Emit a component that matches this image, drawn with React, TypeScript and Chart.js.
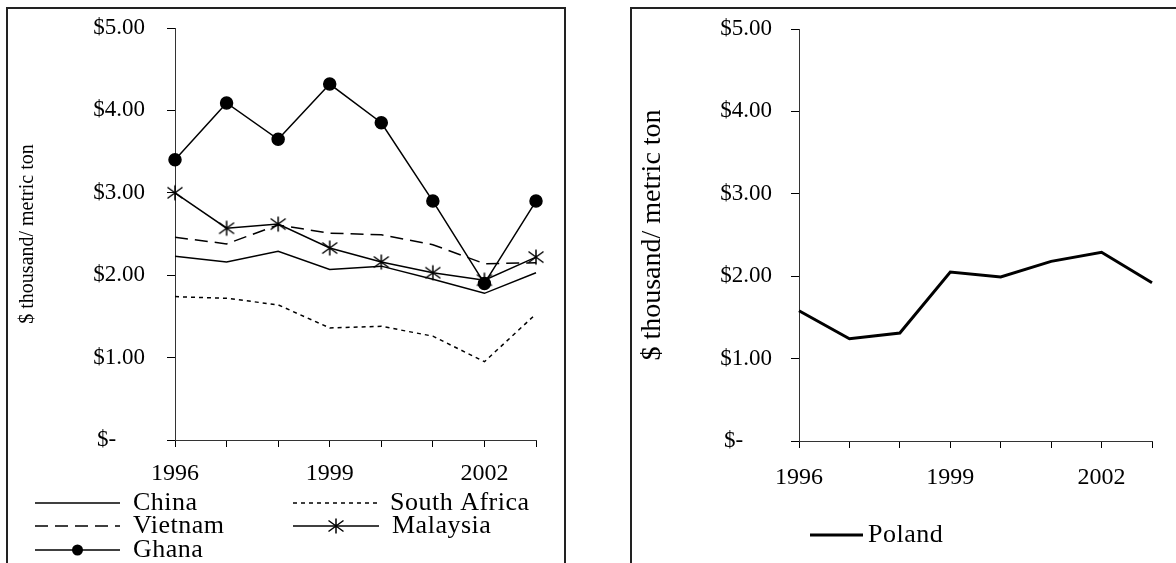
import React, { useEffect, useRef } from 'react';
import { Chart, registerables } from 'chart.js';

Chart.register(...registerables);

const years = ['1996', '1997', '1998', '1999', '2000', '2001', '2002', '2003'];
const shownYears = ['1996', '1999', '2002'];
const china = [2.23, 2.16, 2.29, 2.07, 2.11, 1.95, 1.78, 2.03];
const southAfrica = [1.74, 1.72, 1.64, 1.36, 1.38, 1.26, 0.95, 1.53];
const vietnam = [2.46, 2.38, 2.61, 2.51, 2.49, 2.37, 2.14, 2.15];
const malaysia = [3.0, 2.57, 2.62, 2.33, 2.16, 2.03, 1.94, 2.22];
const ghana = [3.4, 4.09, 3.65, 4.32, 3.85, 2.9, 1.9, 2.9];
const poland = [1.58, 1.24, 1.31, 2.05, 1.99, 2.18, 2.29, 1.92];
const yTitle = '$ thousand/ metric ton';

const FAMILY = '"Liberation Serif", "Times New Roman", serif';

function makeStar(): HTMLCanvasElement {
  const c = document.createElement('canvas');
  c.width = 18;
  c.height = 18;
  const g = c.getContext('2d')!;
  g.strokeStyle = '#000';
  g.lineWidth = 1.5;
  const cx = 9, cy = 9;
  g.beginPath();
  g.moveTo(cx, cy - 7.5);
  g.lineTo(cx, cy + 7.5);
  g.moveTo(cx - 7.5, cy - 5.5);
  g.lineTo(cx + 7.5, cy + 5.5);
  g.moveTo(cx - 7.5, cy + 5.5);
  g.lineTo(cx + 7.5, cy - 5.5);
  g.stroke();
  return c;
}

type LegendSlot = { index: number; x1: number; x2: number; y: number; textX: number };

function legendPlugin(slots: LegendSlot[], fontSize: number) {
  return {
    id: 'customLegend',
    afterDraw(chart: any) {
      const ctx: CanvasRenderingContext2D = chart.ctx;
      ctx.save();
      slots.forEach((s) => {
        const ds = chart.data.datasets[s.index];
        ctx.beginPath();
        ctx.strokeStyle = '#000';
        ctx.lineWidth = ds.borderWidth;
        ctx.setLineDash(ds.borderDash || []);
        ctx.moveTo(s.x1, s.y);
        ctx.lineTo(s.x2, s.y);
        ctx.stroke();
        ctx.setLineDash([]);
        const mid = (s.x1 + s.x2) / 2;
        if (ds.pointStyle === 'circle' && ds.pointRadius > 0) {
          ctx.beginPath();
          ctx.fillStyle = '#000';
          ctx.arc(mid, s.y, 5.5, 0, Math.PI * 2);
          ctx.fill();
        } else if (ds.pointStyle && typeof ds.pointStyle === 'object') {
          const img = ds.pointStyle as HTMLCanvasElement;
          ctx.drawImage(img, mid - img.width / 2, s.y - img.height / 2);
        }
        ctx.fillStyle = '#000';
        ctx.font = `${fontSize}px ${FAMILY}`;
        (ctx as any).letterSpacing = '0.5px';
        ctx.textAlign = 'left';
        ctx.textBaseline = 'middle';
        ctx.fillText(ds.label, s.textX, s.y);
      });
      ctx.restore();
    },
  };
}

function yFmt(v: any) {
  const n = Number(v);
  if (n === 0) return '$-\u2007\u2007 ';
  return '$' + n.toFixed(2);
}

function makeScales(opts: {
  xPad: number;
  yPad: number;
  titleSize: number;
  titlePad: number;
  xHeight: number;
}) {
  return {
    x: {
      type: 'category',
      offset: false,
      grid: {
        display: true,
        drawOnChartArea: false,
        drawTicks: true,
        tickLength: 7,
        color: '#000',
        lineWidth: 1,
        offset: false,
      },
      border: { display: true, color: '#333', width: 1 },
      ticks: {
        autoSkip: false,
        maxRotation: 0,
        minRotation: 0,
        padding: opts.xPad,
        color: '#000',
        font: { family: FAMILY, size: 24 },
        callback: (_v: any, i: number) => (shownYears.includes(years[i]) ? years[i] : ''),
      },
      afterFit: (s: any) => {
        s.height = opts.xHeight;
        s.paddingLeft = 0;
        s.paddingRight = 0;
      },
    },
    y: {
      min: 0,
      max: 5,
      grid: {
        display: true,
        drawOnChartArea: false,
        drawTicks: true,
        tickLength: 8,
        color: '#000',
        lineWidth: 1,
      },
      border: { display: true, color: '#333', width: 1 },
      ticks: {
        stepSize: 1,
        padding: opts.yPad,
        color: '#000',
        font: { family: FAMILY, size: 23 },
        callback: yFmt,
      },
      title: {
        display: true,
        text: yTitle,
        color: '#000',
        font: { family: FAMILY, size: opts.titleSize },
        padding: { top: opts.titlePad, bottom: 0 },
      },
      afterFit: (s: any) => {
        s.width = 166;
        s.paddingTop = 0;
        s.paddingBottom = 0;
      },
    },
  };
}

function ChartCanvas(props: { build: () => any; width: number; height: number; left: number; top: number }) {
  const ref = useRef<HTMLCanvasElement | null>(null);
  useEffect(() => {
    if (!ref.current) return;
    const chart = new Chart(ref.current, props.build());
    return () => chart.destroy();
  }, []);
  return (
    <canvas
      ref={ref}
      width={props.width}
      height={props.height}
      style={{
        position: 'absolute',
        left: props.left,
        top: props.top,
        width: props.width,
        height: props.height,
      }}
    />
  );
}

function buildLeft() {
  const star = makeStar();
  return {
    type: 'line',
    data: {
      labels: years,
      datasets: [
        { label: 'China', data: china, borderColor: '#000', borderWidth: 1.5, pointRadius: 0, tension: 0, clip: false },
        { label: 'South Africa', data: southAfrica, borderColor: '#000', borderWidth: 1.5, borderDash: [4, 4], pointRadius: 0, tension: 0, clip: false },
        { label: 'Vietnam', data: vietnam, borderColor: '#000', borderWidth: 1.5, borderDash: [13, 7], pointRadius: 0, tension: 0, clip: false },
        { label: 'Malaysia', data: malaysia, borderColor: '#000', borderWidth: 1.5, pointStyle: star, pointRadius: 8, tension: 0, clip: false },
        { label: 'Ghana', data: ghana, borderColor: '#000', borderWidth: 1.5, pointStyle: 'circle', pointRadius: 6, pointBackgroundColor: '#000', pointBorderColor: '#000', tension: 0, clip: false },
      ],
    },
    options: {
      responsive: false,
      animation: false,
      events: [],
      layout: { padding: { top: 18, right: 27, left: 0, bottom: 0 } },
      plugins: { legend: { display: false }, tooltip: { enabled: false } },
      scales: makeScales({ xPad: 12, yPad: 22, titleSize: 20, titlePad: 7, xHeight: 123 }),
    },
    plugins: [
      legendPlugin(
        [
          { index: 0, x1: 26, x2: 111, y: 493, textX: 124 },
          { index: 1, x1: 284, x2: 368, y: 493, textX: 381 },
          { index: 2, x1: 26, x2: 111, y: 516, textX: 124 },
          { index: 3, x1: 284, x2: 370, y: 516, textX: 383 },
          { index: 4, x1: 26, x2: 111, y: 540, textX: 124 },
        ],
        26
      ),
    ],
  };
}

function buildRight() {
  return {
    type: 'line',
    data: {
      labels: years,
      datasets: [
        { label: 'Poland', data: poland, borderColor: '#000', borderWidth: 3, pointRadius: 0, tension: 0, clip: false },
      ],
    },
    options: {
      responsive: false,
      animation: false,
      events: [],
      layout: { padding: { top: 19, right: 24, left: 0, bottom: 0 } },
      plugins: { legend: { display: false }, tooltip: { enabled: false } },
      scales: makeScales({ xPad: 15, yPad: 19, titleSize: 28, titlePad: 3, xHeight: 122 }),
    },
    plugins: [legendPlugin([{ index: 0, x1: 177, x2: 230, y: 525, textX: 235 }], 26)],
  };
}

export default function App() {
  return (
    <div
      style={{
        position: 'absolute',
        left: 0,
        top: 0,
        width: 1176,
        height: 563,
        overflow: 'hidden',
        background: '#fff',
      }}
    >
      <div
        style={{
          position: 'absolute',
          left: 6,
          top: 7,
          width: 560,
          height: 620,
          boxSizing: 'border-box',
          borderLeft: '2px solid #222',
          borderTop: '2px solid #222',
          borderRight: '2px solid #222',
        }}
      />
      <div
        style={{
          position: 'absolute',
          left: 630,
          top: 7,
          width: 600,
          height: 620,
          boxSizing: 'border-box',
          borderLeft: '2px solid #222',
          borderTop: '2px solid #222',
        }}
      />
      <ChartCanvas build={buildLeft} width={554} height={553} left={9} top={10} />
      <ChartCanvas build={buildRight} width={543} height={553} left={633} top={10} />
    </div>
  );
}
